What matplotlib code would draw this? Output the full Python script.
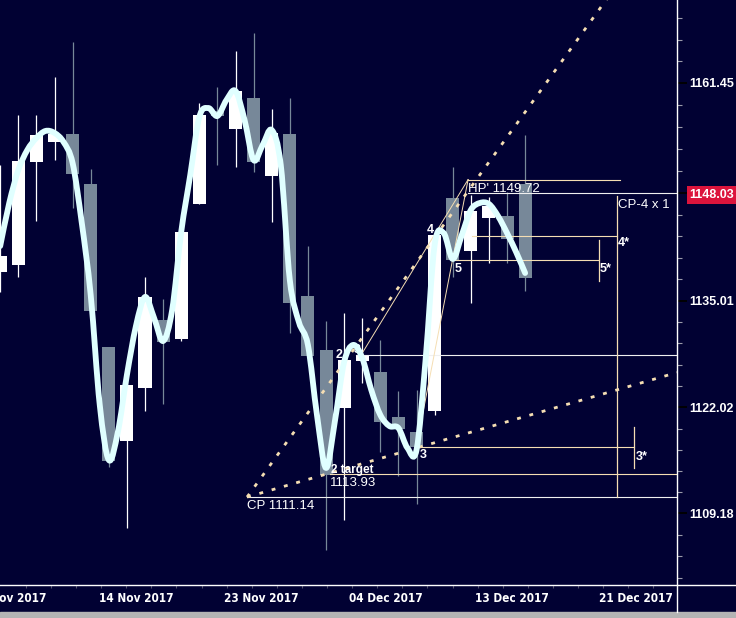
import numpy as np
import matplotlib
matplotlib.use('Agg')
import matplotlib.pyplot as plt
from matplotlib.path import Path
from matplotlib.patches import PathPatch, Rectangle
from matplotlib.lines import Line2D

# daily bars, 03 Nov 2017 .. 15 Dec 2017
opens = [1138.49, 1139.34, 1151.85, 1154.28, 1155.25, 1149.18, 1129.37, 1117.95, 1124.39, 1132.65,
         1130.34, 1146.75, 1158.05, 1155.86, 1159.63, 1150.15, 1155.25, 1135.57, 1129.01, 1121.96,
         1127.67, 1126.33, 1120.87, 1119.04, 1121.60, 1147.48, 1141.04, 1145.05, 1145.29, 1149.18]
highs = [1151.49, 1157.56, 1157.56, 1162.18, 1166.43, 1151.00, 1129.37, 1127.19, 1137.88, 1135.20,
         1143.35, 1159.02, 1160.96, 1165.34, 1167.53, 1158.29, 1159.63, 1141.64, 1132.53, 1133.50,
         1132.90, 1130.22, 1124.03, 1124.15, 1142.98, 1151.24, 1147.84, 1147.60, 1148.21, 1155.13]
lows = [1136.06, 1137.88, 1144.68, 1152.09, 1146.26, 1133.75, 1114.79, 1107.38, 1121.60, 1122.45,
        1130.10, 1146.75, 1151.49, 1151.24, 1150.64, 1144.56, 1131.07, 1127.79, 1104.71, 1108.35,
        1125.00, 1116.61, 1113.70, 1110.30, 1121.11, 1137.88, 1134.72, 1139.58, 1139.58, 1136.18]
closes = [1140.43, 1151.97, 1155.13, 1155.25, 1150.39, 1133.75, 1115.52, 1124.76, 1135.45, 1129.98,
          1143.35, 1157.56, 1157.44, 1160.48, 1151.85, 1155.38, 1134.72, 1128.28, 1113.82, 1127.79,
          1128.40, 1120.26, 1119.41, 1117.22, 1142.98, 1139.94, 1145.90, 1146.50, 1142.50, 1137.76]

# smoothed line, read every half bar
smooth = [1141.64, 1146.87, 1150.88, 1153.31, 1154.77, 1155.62, 1155.38, 1154.28, 1151.73, 1144.56,
          1135.69, 1122.33, 1115.64, 1119.04, 1125.97, 1131.92, 1135.45, 1132.90, 1130.10, 1133.87,
          1143.35, 1150.27, 1157.32, 1158.41, 1157.44, 1159.38, 1160.48, 1156.95, 1152.09, 1153.92,
          1155.74, 1151.49, 1137.51, 1132.41, 1129.62, 1121.11, 1114.67, 1120.50, 1127.55, 1129.62,
          1128.04, 1124.15, 1121.11, 1119.77, 1119.53, 1117.10, 1116.86, 1127.79, 1141.77, 1143.22,
          1140.07, 1142.98, 1146.02, 1146.87, 1146.75, 1145.29, 1143.22, 1140.92, 1138.36]

ytick_vals = [1109.18, 1122.02, 1135.01, 1148.03, 1161.45]
last_price = 1148.03
xtick_labels = ['03 Nov 2017', '14 Nov 2017', '23 Nov 2017', '04 Dec 2017', '13 Dec 2017', '21 Dec 2017']
xtick_pos = [0.5, 7.5, 14.4, 21.3, 28.25, 35.1]

# pattern points (bar index, price)
cp = (13.64, 1111.14)
up_end = (33.47, 1171.53)
low_end = (37.39, 1126.27)
pt2 = (20.04, 1128.77)
pt3 = (23.03, 1117.71)
hp = (25.85, 1149.72)

# horizontal levels: price, start, end (None = to the axis edge), colour
levels = [
    (1149.72, 25.85, 34.24, '#f5deb3'),
    (1148.03, 25.85, None, '#f0f0f0'),
    (1142.90, 26.07, 34.08, '#f5deb3'),
    (1139.94, 25.13, 33.08, '#f5deb3'),
    (1128.40, 19.66, None, '#f0f0f0'),
    (1117.22, 23.19, 35.04, '#f5deb3'),
    (1113.93, 18.22, None, '#f5deb3'),
    (1111.14, 13.64, None, '#f0f0f0'),
]
# vertical markers: x, price from, price to
markers = [(33.08, 1142.37, 1137.39), (34.08, 1147.72, 1111.15), (35.04, 1119.65, 1114.67)]

navy = '#010133'
tan = '#f5deb3'
grey = '#778899'
XMAX = 37.39


def smooth_path(xs, ys):
    pts = np.column_stack([xs, ys])
    ext = np.vstack([pts[0], pts, pts[-1]])
    verts = [pts[0]]
    codes = [Path.MOVETO]
    for i in range(1, len(ext) - 2):
        p0, p1, p2, p3 = ext[i - 1], ext[i], ext[i + 1], ext[i + 2]
        verts += [p1 + (p2 - p0) / 6, p2 - (p3 - p1) / 6, p2]
        codes += [Path.CURVE4] * 3
    return Path(verts, codes)


fig = plt.figure(figsize=(7.36, 6.18), dpi=100, facecolor=navy)
ax = fig.add_axes([0, 33 / 618, 677 / 736, 585 / 618], facecolor=navy)

idx = np.arange(len(opens))
o = np.array(opens)
c = np.array(closes)
up = c >= o
cols = np.where(up, 'white', grey)

ax.vlines(idx, lows, highs, colors=cols, lw=0.9, zorder=2)
ax.bar(idx, np.abs(c - o), bottom=np.minimum(o, c), width=0.72, color=cols, zorder=3)

# level lines
for price, x0, x1, col in levels:
    ax.plot([x0, XMAX + 1 if x1 is None else x1], [price, price], color=col, lw=0.8, zorder=4)
for x, p0, p1 in markers:
    ax.plot([x, x], [p0, p1], color=tan, lw=0.9, zorder=4)

# trend lines
ax.plot([cp[0], up_end[0] + 2], [cp[1], up_end[1] + 2 * (up_end[1] - cp[1]) / (up_end[0] - cp[0])],
        color=tan, lw=2, ls=(0, (1.4, 3.2)), zorder=5)
ax.plot([cp[0], low_end[0]], [cp[1], low_end[1]], color=tan, lw=2, ls=(0, (1.4, 3.2)), zorder=5)
ax.plot([pt2[0], hp[0]], [pt2[1], hp[1]], color=tan, lw=0.7, zorder=4)
ax.plot([pt3[0], hp[0]], [pt3[1], hp[1]], color=tan, lw=0.7, zorder=4)

# smoothed line
xs = np.arange(len(smooth)) / 2
ax.add_patch(PathPatch(smooth_path(xs, smooth), fill=False, edgecolor='#e0ffff',
                       lw=4.2, capstyle='round', joinstyle='round', zorder=6))

fnt = dict(family=['Liberation Sans', 'DejaVu Sans'], color='white', zorder=7)
ax.text(13.64, 1109.69, 'CP 1111.14', fontsize=9.5, **fnt)
ax.text(18.28, 1114.0, '2 target', fontsize=8.5, fontweight='bold', **fnt)
ax.text(18.22, 1112.48, '1113.93', fontsize=9.5, **fnt)
ax.text(23.19, 1115.89, '3', fontsize=9, fontweight='bold', **fnt)
ax.text(23.58, 1143.22, '4', fontsize=9, fontweight='bold', **fnt)
ax.text(25.13, 1138.49, '5', fontsize=9, fontweight='bold', **fnt)
ax.text(18.55, 1128.04, '2', fontsize=9, fontweight='bold', family=['Liberation Sans'], color='white', zorder=5)
ax.text(19.55, 1128.6, '3', fontsize=9, fontweight='bold', family=['Liberation Sans'], color='white', zorder=5)
ax.text(25.85, 1148.2, "HP' 1149.72", fontsize=9.5, **fnt)
ax.text(34.13, 1146.26, 'CP-4 x 1', fontsize=9.5, **fnt)
ax.text(34.13, 1141.64, '4*', fontsize=9, fontweight='bold', **fnt)
ax.text(33.14, 1138.49, '5*', fontsize=9, fontweight='bold', **fnt)
ax.text(35.13, 1115.64, '3*', fontsize=9, fontweight='bold', **fnt)

ax.set_xlim(-0.011, XMAX)
ax.set_ylim(1100.45, 1171.535)

# right price axis
ax.yaxis.tick_right()
ax.set_yticks(ytick_vals, labels=[f'{v:.2f}' for v in ytick_vals])
minor = []
for a, b in zip(ytick_vals[:-1], ytick_vals[1:]):
    minor += list(np.linspace(a, b, 6)[1:-1])
step = (ytick_vals[-1] - ytick_vals[0]) / 20
minor += [ytick_vals[-1] + step * k for k in (1, 2, 3)] + [ytick_vals[0] - step * k for k in (1, 2, 3)]
ax.set_yticks(minor, minor=True)
ax.tick_params(axis='y', which='major', length=7.2, width=1.3, color='black', labelcolor='white',
               labelsize=9, pad=1.8)
ax.tick_params(axis='y', which='minor', length=3.6, width=0.8, color='#9a9aaa')
for lab in ax.get_yticklabels():
    lab.set_fontweight('bold')
    lab.set_family(['Liberation Sans', 'DejaVu Sans'])
    if lab.get_text() == f'{last_price:.2f}':
        lab.set_bbox(dict(facecolor='#dc143c', edgecolor='none', pad=2))

# date axis
ax.set_xticks(xtick_pos, labels=xtick_labels)
ax.set_xticks(1.414 + 1.387 * np.arange(26), minor=True)
ax.tick_params(axis='x', which='major', length=0, pad=5, labelcolor='white', labelsize=8.5)
ax.tick_params(axis='x', which='minor', length=2.2, width=0.8, color='#50506a')
for lab in ax.get_xticklabels():
    lab.set_fontweight('bold')
    lab.set_family(['DejaVu Sans'])
    lab.set_fontstretch('condensed')

for s in ax.spines.values():
    s.set_visible(False)

# frame lines and bottom strip
fig.add_artist(Line2D([0, 1], [33 / 618, 33 / 618], color='white', lw=1))
fig.add_artist(Line2D([677 / 736, 677 / 736], [6 / 618, 1], color='white', lw=1))
fig.add_artist(Rectangle((0, 0), 1, 6 / 618, transform=fig.transFigure, color='#b4b4b4'))

fig.savefig('out.png', dpi=100, facecolor=navy)
